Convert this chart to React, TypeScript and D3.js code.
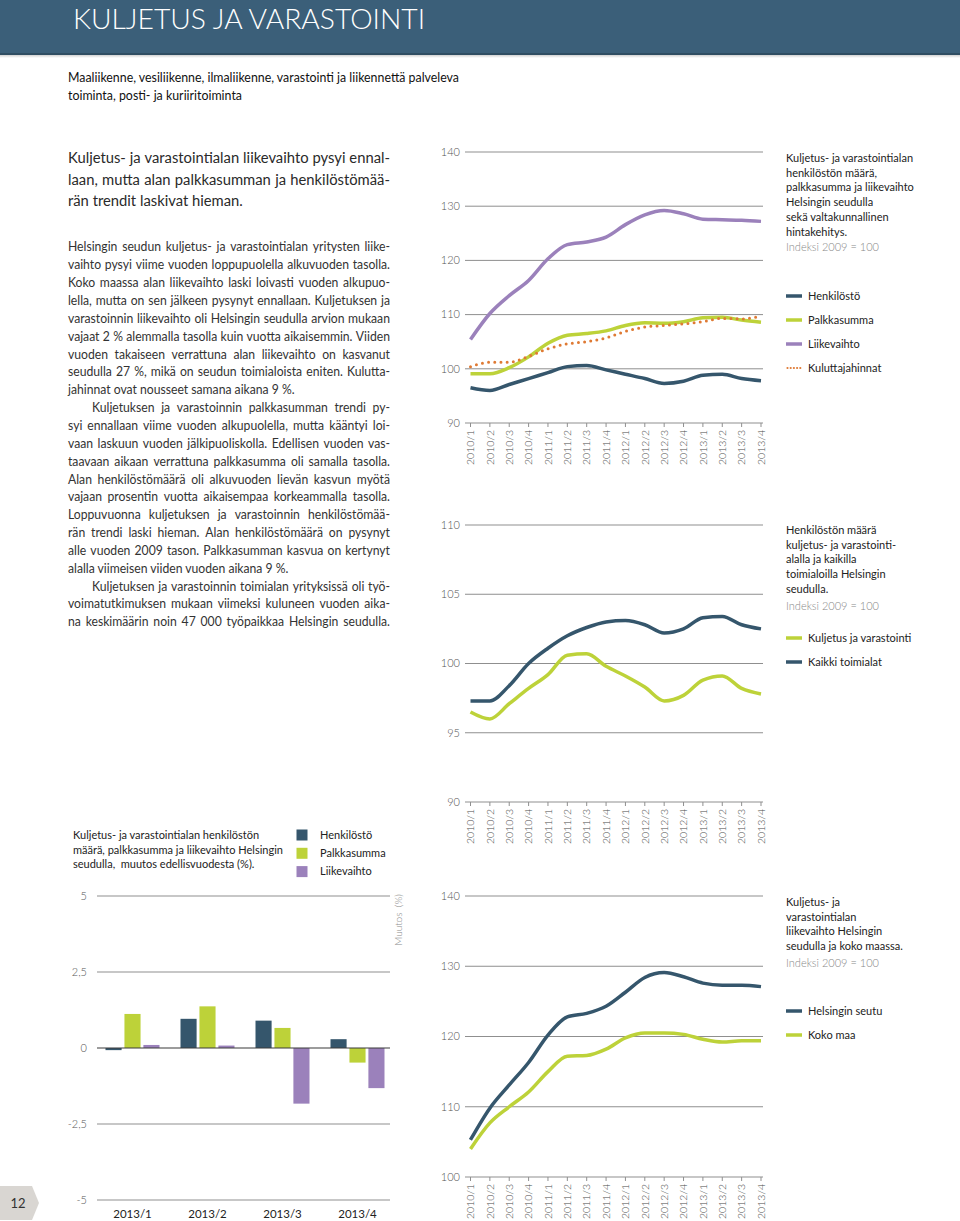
import { useMemo } from "react";
import * as d3 from "d3";

const quarters = [
  "2010/1", "2010/2", "2010/3", "2010/4",
  "2011/1", "2011/2", "2011/3", "2011/4",
  "2012/1", "2012/2", "2012/3", "2012/4",
  "2013/1", "2013/2", "2013/3", "2013/4",
];

// chart 1 - index 2009 = 100
const henkilosto = [96.5, 96.0, 97.1, 98.2, 99.3, 100.4, 100.6, 99.8, 99.0, 98.2, 97.3, 97.7, 98.8, 99.0, 98.2, 97.8];
const palkkasumma = [99.1, 99.1, 100.2, 102.2, 104.7, 106.2, 106.5, 107.0, 108.0, 108.5, 108.4, 108.7, 109.4, 109.5, 109.0, 108.6];
const liikevaihto = [105.4, 110.2, 113.5, 116.3, 120.3, 122.9, 123.4, 124.3, 126.6, 128.4, 129.2, 128.6, 127.6, 127.5, 127.4, 127.2];
const kuluttajahinnat = [100.4, 101.2, 101.2, 102.3, 103.7, 104.6, 105.0, 105.7, 106.9, 107.7, 108.0, 108.3, 108.7, 109.3, 109.2, 109.7];

// chart 2 - henkilöstö
const kuljetusHenk = [96.5, 96.0, 97.1, 98.2, 99.2, 100.6, 100.7, 99.8, 99.1, 98.3, 97.3, 97.7, 98.8, 99.1, 98.2, 97.8];
const kaikkiHenk = [97.3, 97.3, 98.4, 100.0, 101.1, 102.0, 102.6, 103.0, 103.1, 102.8, 102.2, 102.5, 103.3, 103.4, 102.8, 102.5];

// chart 3 - liikevaihto
const helsinkiLv = [105.3, 109.8, 113.1, 116.3, 120.2, 122.8, 123.3, 124.3, 126.3, 128.4, 129.1, 128.5, 127.6, 127.3, 127.3, 127.1];
const kokoMaaLv = [104.0, 107.7, 110.0, 112.1, 115.0, 117.2, 117.3, 118.2, 119.8, 120.5, 120.5, 120.3, 119.6, 119.2, 119.4, 119.4];

// bar chart - muutos edellisvuodesta (%)
const barQuarters = ["2013/1", "2013/2", "2013/3", "2013/4"];
const barHenk = [-0.07, 0.96, 0.9, 0.29];
const barPalkka = [1.12, 1.37, 0.66, -0.48];
const barLv = [0.1, 0.08, -1.83, -1.32];
const barTicks = [5, 2.5, 0, -2.5, -5];

const DARK = "#35566c";
const GREEN = "#bdd239";
const PURPLE = "#9b81bb";
const ORANGE = "#df7a34";
const GRID = "#8f8f8f";
const FONT = "Lato, 'Open Sans', sans-serif";

const heading = [
  "Kuljetus- ja varastointialan liikevaihto pysyi ennal-",
  "laan, mutta alan palkkasumman ja henkilöstömää-",
  "rän trendit laskivat hieman.",
];

type BodyLine = { t: string; indent?: boolean; last?: boolean };
const body: BodyLine[] = [
  { t: "Helsingin seudun kuljetus- ja varastointialan yritysten liike-" },
  { t: "vaihto pysyi viime vuoden loppupuolella alkuvuoden tasolla." },
  { t: "Koko maassa alan liikevaihto laski loivasti vuoden alkupuo-" },
  { t: "lella, mutta on sen jälkeen pysynyt ennallaan. Kuljetuksen ja" },
  { t: "varastoinnin liikevaihto oli Helsingin seudulla arvion mukaan" },
  { t: "vajaat 2 % alemmalla tasolla kuin vuotta aikaisemmin. Viiden" },
  { t: "vuoden takaiseen verrattuna alan liikevaihto on kasvanut" },
  { t: "seudulla 27 %, mikä on seudun toimialoista eniten. Kulutta-" },
  { t: "jahinnat ovat nousseet samana aikana 9 %.", last: true },
  { t: "Kuljetuksen ja varastoinnin palkkasumman trendi py-", indent: true },
  { t: "syi ennallaan viime vuoden alkupuolella, mutta kääntyi loi-" },
  { t: "vaan laskuun vuoden jälkipuoliskolla. Edellisen vuoden vas-" },
  { t: "taavaan aikaan verrattuna palkkasumma oli samalla tasolla." },
  { t: "Alan henkilöstömäärä oli alkuvuoden lievän kasvun myötä" },
  { t: "vajaan prosentin vuotta aikaisempaa korkeammalla tasolla." },
  { t: "Loppuvuonna kuljetuksen ja varastoinnin henkilöstömää-" },
  { t: "rän trendi laski hieman. Alan henkilöstömäärä on pysynyt" },
  { t: "alle vuoden 2009 tason. Palkkasumman kasvua on kertynyt" },
  { t: "alalla viimeisen viiden vuoden aikana 9 %.", last: true },
  { t: "Kuljetuksen ja varastoinnin toimialan yrityksissä oli työ-", indent: true },
  { t: "voimatutkimuksen mukaan viimeksi kuluneen vuoden aika-" },
  { t: "na keskimäärin noin 47 000 työpaikkaa Helsingin seudulla." },
];

// measure text so justified lines can be spread word by word
function useMeasure(font: string) {
  return useMemo(() => {
    const ctx = document.createElement("canvas").getContext("2d")!;
    ctx.font = font;
    return (s: string) => ctx.measureText(s).width;
  }, [font]);
}

function Justified({ lines, x, y0, lh, width, size, weight, refLine, refWidth, indent, fill }: any) {
  const measure = useMeasure(`${weight} ${size}px Lato`);
  let sx: number;
  if (refLine) {
    sx = refWidth / measure(refLine);
  } else {
    // horizontal squeeze so that the tightest justified line just fits
    sx = d3.min(lines.filter((l: BodyLine) => !l.last), (l: BodyLine) =>
      (width - (l.indent ? indent : 0)) / measure(l.t)) as number;
    sx *= 0.995;
  }
  return (
    <g transform={`translate(${x},0) scale(${sx},1)`} fontFamily={FONT} fontSize={size} fontWeight={weight} fill={fill}>
      {lines.map((l: BodyLine, i: number) => {
        const left = (l.indent ? indent : 0) / sx;
        const y = y0 + i * lh;
        if (l.last) return <text key={i} x={left} y={y}>{l.t}</text>;
        const words = l.t.split(" ");
        const ws = words.map(measure);
        const target = width / sx - left;
        const gap = (target - d3.sum(ws)) / (words.length - 1);
        let cx = left;
        return (
          <text key={i} y={y}>
            {words.map((w, j) => {
              const el = <tspan key={j} x={cx}>{w}</tspan>;
              cx += ws[j] + gap;
              return el;
            })}
          </text>
        );
      })}
    </g>
  );
}

type Series = { values: number[]; color: string; dotted?: boolean };

function LineChart({ yMin, yMax, ticks, top, bottom, series }: { yMin: number; yMax: number; ticks: number[]; top: number; bottom: number; series: Series[] }) {
  const x = d3.scalePoint(quarters, [470.5, 761]);
  const y = d3.scaleLinear([yMin, yMax], [bottom, top]);
  const line = d3.line<number>()
    .x((_, i) => x(quarters[i])!)
    .y(d => y(d))
    .curve(d3.curveMonotoneX);
  return (
    <g fontFamily={FONT}>
      {ticks.map(t => (
        <g key={t}>
          <line x1={465} x2={763} y1={y(t)} y2={y(t)} stroke={GRID} strokeWidth={1} />
          <text x={460} y={y(t)} dy="0.35em" textAnchor="end" fontSize={11} fill="#555" fontWeight={300}>{t}</text>
        </g>
      ))}
      {quarters.map(q => (
        <g key={q}>
          <line x1={x(q)} x2={x(q)} y1={bottom} y2={bottom + 4} stroke={GRID} />
          <text transform={`translate(${x(q)},${bottom + 7}) rotate(-90)`} textAnchor="end" dy="0.36em" fontSize={10.5} fill="#4a4a4a" fontWeight={300}>{q}</text>
        </g>
      ))}
      {series.map((s, i) => (
        <path
          key={i}
          d={line(s.values) ?? ""}
          fill="none"
          stroke={s.color}
          strokeWidth={s.dotted ? 3 : 3.5}
          strokeDasharray={s.dotted ? "0 6.2" : undefined}
          strokeLinecap={s.dotted ? "round" : "butt"}
          strokeLinejoin="round"
        />
      ))}
    </g>
  );
}

function Legend({ title, titleY, indexY, items, itemY }: { title: string[]; titleY: number; indexY: number; items: { label: string; color: string; dotted?: boolean }[]; itemY: number }) {
  return (
    <g fontFamily={FONT} fontSize={11}>
      {title.map((t, i) => (
        <text key={t} x={786} y={titleY + i * 14.7} fill="#222">{t}</text>
      ))}
      <text x={786} y={indexY} fill="#888" fontWeight={300}>Indeksi 2009 = 100</text>
      {items.map((it, i) => {
        const cy = itemY + i * 24;
        return (
          <g key={it.label}>
            <line
              x1={it.dotted ? 787.5 : 786}
              x2={802}
              y1={cy}
              y2={cy}
              stroke={it.color}
              strokeWidth={it.dotted ? 2.2 : 3.5}
              strokeDasharray={it.dotted ? "0 3.2" : undefined}
              strokeLinecap={it.dotted ? "round" : "butt"}
            />
            <text x={808} y={cy} dy="0.35em" fill="#222">{it.label}</text>
          </g>
        );
      })}
    </g>
  );
}

function BarChart() {
  const x = d3.scalePoint(barQuarters, [95, 395]).padding(0.5);
  const keys = ["h", "p", "l"];
  const inner = d3.scaleBand(keys, [-27, 27]).paddingInner(0.15);
  const y = d3.scaleLinear([-5, 5], [1200, 896]);
  const data: Record<string, number[]> = { h: barHenk, p: barPalkka, l: barLv };
  const color: Record<string, string> = { h: DARK, p: GREEN, l: PURPLE };
  const legend = [
    { label: "Henkilöstö", color: DARK },
    { label: "Palkkasumma", color: GREEN },
    { label: "Liikevaihto", color: PURPLE },
  ];
  return (
    <g fontFamily={FONT}>
      <g fontSize={11} fill="#222">
        <text x={73} y={839}>Kuljetus- ja varastointialan henkilöstön</text>
        <text x={73} y={853.5}>määrä, palkkasumma ja liikevaihto Helsingin</text>
        <text x={73} y={868} style={{ whiteSpace: "pre" }}>seudulla,  muutos edellisvuodesta (%).</text>
      </g>
      {legend.map((l, i) => (
        <g key={l.label}>
          <rect x={296.5} y={829.5 + i * 18.3} width={11} height={11} fill={l.color} />
          <text x={320} y={835 + i * 18.3} dy="0.35em" fontSize={11} fill="#222">{l.label}</text>
        </g>
      ))}
      {barTicks.filter(t => t !== 0).map(t => (
        <line key={t} x1={97} x2={390} y1={y(t)} y2={y(t)} stroke={GRID} strokeWidth={1} />
      ))}
      {barTicks.map(t => (
        <text key={t} x={87} y={y(t)} dy="0.35em" textAnchor="end" fontSize={11} fill="#555" fontWeight={300}>
          {String(t).replace(".", ",")}
        </text>
      ))}
      {barQuarters.map((q, qi) =>
        keys.map(k => {
          const v = data[k][qi];
          return (
            <rect
              key={q + k}
              x={x(q)! + inner(k)!}
              y={y(Math.max(0, v))}
              width={inner.bandwidth()}
              height={Math.abs(y(v) - y(0))}
              fill={color[k]}
            />
          );
        })
      )}
      <line x1={97} x2={390} y1={y(0)} y2={y(0)} stroke="#3a3a3a" strokeWidth={1.2} />
      {barQuarters.map(q => (
        <text key={q} x={x(q)} y={1218} textAnchor="middle" fontSize={11.5} fill="#222">{q}</text>
      ))}
      <text transform="translate(402,920) rotate(-90)" textAnchor="middle" fontSize={10} fill="#888" fontWeight={300} style={{ whiteSpace: "pre" }}>Muutos  (%)</text>
    </g>
  );
}

export default function App() {
  return (
    <svg width={960} height={1221} style={{ position: "absolute", left: 0, top: 0, background: "#fff" }}>
      <rect x={0} y={0} width={960} height={1221} fill="#fff" />
      {/* header */}
      <defs>
        <linearGradient id="shade" x1="0" y1="0" x2="0" y2="1">
          <stop offset="0" stopColor="#000" stopOpacity={0.18} />
          <stop offset="1" stopColor="#000" stopOpacity={0} />
        </linearGradient>
      </defs>
      <rect x={0} y={0} width={960} height={53} fill="#3b5f79" />
      <rect x={0} y={53} width={960} height={2} fill="#2f4d62" />
      <rect x={0} y={55} width={960} height={3} fill="url(#shade)" />
      <text x={73} y={28.5} fontFamily={FONT} fontWeight={300} fontSize={28} fill="#fff" textLength={352} lengthAdjust="spacingAndGlyphs">
        KULJETUS JA VARASTOINTI
      </text>
      <g fontFamily={FONT} fontSize={13} fill="#111">
        <text x={68} y={82} textLength={391} lengthAdjust="spacingAndGlyphs">Maaliikenne, vesiliikenne, ilmaliikenne, varastointi ja liikennettä palveleva</text>
        <text x={68} y={100} textLength={174} lengthAdjust="spacingAndGlyphs">toiminta, posti- ja kuriiritoiminta</text>
      </g>

      {/* text column */}
      <Justified
        lines={heading.map((t, i) => ({ t, last: i === heading.length - 1 }))}
        x={68} y0={163.5} lh={21.5} width={322} size={16} weight={400}
        refLine={heading[2]} refWidth={175} indent={0} fill="#2a2a2a"
      />
      <Justified
        lines={body}
        x={68} y0={251.5} lh={17.85} width={322} size={12.6} weight={400}
        indent={24} fill="#333"
      />

      {/* chart 1 */}
      <LineChart
        yMin={90} yMax={140} ticks={[90, 100, 110, 120, 130, 140]} top={152} bottom={423}
        series={[
          { values: liikevaihto, color: PURPLE },
          { values: palkkasumma, color: GREEN },
          { values: henkilosto, color: DARK },
          { values: kuluttajahinnat, color: ORANGE, dotted: true },
        ]}
      />
      <Legend
        title={["Kuljetus- ja varastointialan", "henkilöstön määrä,", "palkkasumma ja liikevaihto", "Helsingin seudulla", "sekä valtakunnallinen", "hintakehitys."]}
        titleY={162} indexY={251}
        items={[
          { label: "Henkilöstö", color: DARK },
          { label: "Palkkasumma", color: GREEN },
          { label: "Liikevaihto", color: PURPLE },
          { label: "Kuluttajahinnat", color: ORANGE, dotted: true },
        ]}
        itemY={296}
      />

      {/* chart 2 */}
      <LineChart
        yMin={90} yMax={110} ticks={[90, 95, 100, 105, 110]} top={525} bottom={802}
        series={[
          { values: kaikkiHenk, color: DARK },
          { values: kuljetusHenk, color: GREEN },
        ]}
      />
      <Legend
        title={["Henkilöstön määrä", "kuljetus- ja varastointi-", "alalla ja kaikilla", "toimialoilla Helsingin", "seudulla."]}
        titleY={534} indexY={610}
        items={[
          { label: "Kuljetus ja varastointi", color: GREEN },
          { label: "Kaikki toimialat", color: DARK },
        ]}
        itemY={638}
      />

      {/* chart 3 */}
      <LineChart
        yMin={100} yMax={140} ticks={[100, 110, 120, 130, 140]} top={896} bottom={1177}
        series={[
          { values: kokoMaaLv, color: GREEN },
          { values: helsinkiLv, color: DARK },
        ]}
      />
      <Legend
        title={["Kuljetus- ja", "varastointialan", "liikevaihto Helsingin", "seudulla ja koko maassa."]}
        titleY={906} indexY={967}
        items={[
          { label: "Helsingin seutu", color: DARK },
          { label: "Koko maa", color: GREEN },
        ]}
        itemY={1011}
      />

      <BarChart />

      {/* page number */}
      <path d="M0,1186 L32,1186 L39,1203 L32,1220 L0,1220 Z" fill="#d9d6d2" />
      <text x={18} y={1203} dy="0.35em" textAnchor="middle" fontFamily={FONT} fontSize={13} fill="#333">12</text>
    </svg>
  );
}
